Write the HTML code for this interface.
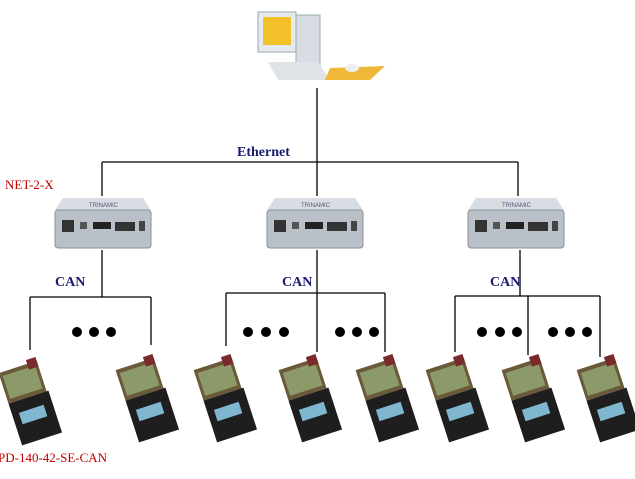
<!DOCTYPE html>
<html><head><meta charset="utf-8"><style>
body{margin:0;background:#fff;width:635px;height:479px;overflow:hidden}
svg{display:block}
.l{stroke:#000;stroke-width:1.3;fill:none}
.t{font-family:"Liberation Serif",serif;font-weight:bold;fill:#1a1a6e;font-size:14px}
.r{font-family:"Liberation Serif",serif;fill:#c00000;font-size:13px}
</style></head><body>
<svg width="635" height="479" viewBox="0 0 635 479">
<defs>
<g id="dev">
<path d="M8 0 L88 0 L96 12 L0 12 Z" fill="#d8dde3"/>
<rect x="0" y="12" width="96" height="38" rx="3" fill="#b9c0c8" stroke="#8a9098"/>
<rect x="7" y="22" width="12" height="12" fill="#333"/>
<rect x="25" y="24" width="7" height="7" fill="#555"/>
<rect x="38" y="24" width="18" height="7" fill="#222"/>
<rect x="60" y="24" width="20" height="9" fill="#333"/>
<rect x="84" y="23" width="6" height="10" fill="#444"/>
<text x="34" y="9" font-size="6" fill="#557" font-family="Liberation Sans,sans-serif">TRINAMIC</text>
</g>
<g id="mot">
<g transform="rotate(-18 25 40)">
<rect x="5" y="0" width="40" height="32" fill="#6b5a3a"/>
<rect x="8" y="4" width="34" height="24" fill="#8c9a6a"/>
<rect x="5" y="32" width="42" height="44" fill="#1e1e1e"/>
<rect x="12" y="44" width="26" height="12" fill="#7fb6d0"/>
<rect x="35" y="-4" width="10" height="10" fill="#7a2a2a"/>
</g>
</g>
</defs>
<!-- computer -->
<rect x="258" y="12" width="38" height="40" fill="#e6e9ee" stroke="#9aa"/>
<rect x="263" y="17" width="28" height="28" fill="#f2c12a"/>
<rect x="296" y="15" width="24" height="50" fill="#d8dde3" stroke="#9aa"/>
<path d="M268 62 L318 62 L330 80 L278 80 Z" fill="#dfe3e8"/>
<path d="M330 68 L385 66 L370 80 L325 80 Z" fill="#f0b838"/>
<ellipse cx="352" cy="68" rx="7" ry="4" fill="#eee"/>
<!-- ethernet -->
<line class="l" x1="317" y1="88" x2="317" y2="196"/>
<line class="l" x1="102" y1="162" x2="518" y2="162"/>
<line class="l" x1="102" y1="162" x2="102" y2="196"/>
<line class="l" x1="518" y1="162" x2="518" y2="196"/>
<text class="t" x="237" y="156">Ethernet</text>
<text class="r" x="5" y="189">NET-2-X</text>
<use href="#dev" x="55" y="198"/>
<use href="#dev" x="267" y="198"/>
<use href="#dev" x="468" y="198"/>
<!-- CAN -->
<line class="l" x1="102" y1="250" x2="102" y2="297"/>
<line class="l" x1="30" y1="297" x2="151" y2="297"/>
<line class="l" x1="30" y1="297" x2="30" y2="350"/>
<line class="l" x1="151" y1="297" x2="151" y2="345"/>
<line class="l" x1="317" y1="250" x2="317" y2="352"/>
<line class="l" x1="226" y1="293" x2="385" y2="293"/>
<line class="l" x1="226" y1="293" x2="226" y2="346"/>
<line class="l" x1="385" y1="293" x2="385" y2="352"/>
<line class="l" x1="520" y1="250" x2="520" y2="296"/>
<line class="l" x1="455" y1="296" x2="600" y2="296"/>
<line class="l" x1="455" y1="296" x2="455" y2="352"/>
<line class="l" x1="528" y1="296" x2="528" y2="355"/>
<line class="l" x1="600" y1="296" x2="600" y2="357"/>
<text class="t" x="55" y="286">CAN</text>
<text class="t" x="282" y="286">CAN</text>
<text class="t" x="490" y="286">CAN</text>
<g fill="#000">
<circle cx="77" cy="332" r="5"/><circle cx="94" cy="332" r="5"/><circle cx="111" cy="332" r="5"/>
<circle cx="248" cy="332" r="5"/><circle cx="266" cy="332" r="5"/><circle cx="284" cy="332" r="5"/>
<circle cx="340" cy="332" r="5"/><circle cx="357" cy="332" r="5"/><circle cx="374" cy="332" r="5"/>
<circle cx="482" cy="332" r="5"/><circle cx="500" cy="332" r="5"/><circle cx="517" cy="332" r="5"/>
<circle cx="553" cy="332" r="5"/><circle cx="570" cy="332" r="5"/><circle cx="587" cy="332" r="5"/>
</g>
<use href="#mot" x="5" y="365"/>
<use href="#mot" x="122" y="362"/>
<use href="#mot" x="200" y="362"/>
<use href="#mot" x="285" y="362"/>
<use href="#mot" x="362" y="362"/>
<use href="#mot" x="432" y="362"/>
<use href="#mot" x="508" y="362"/>
<use href="#mot" x="583" y="362"/>
<text class="r" x="-2" y="462">PD-140-42-SE-CAN</text>
</svg>
</body></html>
